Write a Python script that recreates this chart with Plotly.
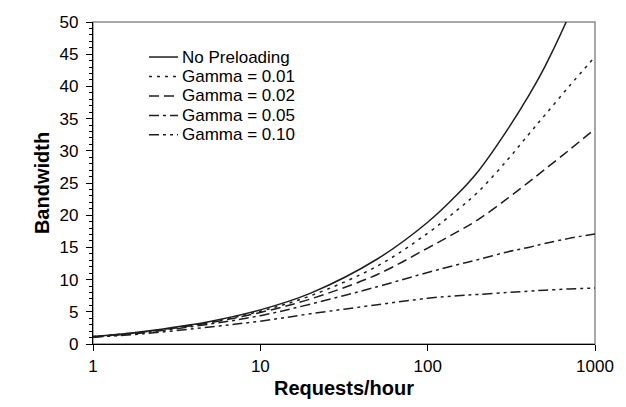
import plotly.graph_objects as go

# Requests/hour (x) and bandwidth per series (y)
requests = [1, 2, 5, 10, 20, 50, 100, 150, 200, 300, 400, 500, 700, 1000]
no_preloading = [1.15, 1.95, 3.5, 5.3, 7.9, 13.2, 18.9, 23.2, 26.8, 33.3, 38.5, 43.0, 51.0, 60.5]
gamma_001 = [1.15, 1.9, 3.4, 5.1, 7.5, 12.1, 17.2, 20.8, 23.6, 28.6, 32.5, 35.5, 40.0, 44.6]
gamma_002 = [1.1, 1.85, 3.3, 4.9, 7.0, 10.8, 14.9, 17.4, 19.3, 22.6, 25.1, 27.1, 30.1, 33.4]
gamma_005 = [1.1, 1.75, 3.1, 4.4, 6.2, 8.9, 11.1, 12.3, 13.1, 14.3, 15.0, 15.6, 16.4, 17.1]
gamma_010 = [1.05, 1.6, 2.65, 3.55, 4.7, 6.1, 7.1, 7.5, 7.7, 8.0, 8.2, 8.35, 8.55, 8.7]

series_names = ["No Preloading", "Gamma = 0.01", "Gamma = 0.02", "Gamma = 0.05", "Gamma = 0.10"]
series_values = [no_preloading, gamma_001, gamma_002, gamma_005, gamma_010]
dashes = ["solid", "3px,5px", "10px,5px", "10px,4px,3px,4px", "10px,4px,3px,4px,3px,4px"]

x_ticks = [1, 10, 100, 1000]
x_tick_labels = ["1", "10", "100", "1000"]

LINE_COLOR = "#1e1e1e"
FONT = "Arial, Liberation Sans, sans-serif"

fig = go.Figure()
for name, vals, dash in zip(series_names, series_values, dashes):
    fig.add_trace(go.Scatter(
        x=requests, y=vals, mode="lines", name=name,
        line=dict(color=LINE_COLOR, width=1.5, dash=dash, shape="spline", smoothing=1.0),
        showlegend=False,
    ))

# Manual legend (tight Excel-style row spacing)
W, H = 502.0, 331.0
row_y_px = [41, 61, 81, 101, 121]
for name, dash, ry in zip(series_names, dashes, row_y_px):
    yp = (336 - ry) / H
    fig.add_shape(type="line", xref="paper", yref="paper",
                  x0=(141 - 85) / W, x1=(170 - 85) / W, y0=yp, y1=yp,
                  line=dict(color=LINE_COLOR, width=1.5, dash=dash))
    fig.add_annotation(xref="paper", yref="paper", x=(172 - 85) / W, y=yp,
                       text=name, showarrow=False, xanchor="left", yanchor="middle",
                       font=dict(family=FONT, size=17, color="black"))

# grey frame on top/right
fig.add_shape(type="rect", xref="paper", yref="paper", x0=0, x1=1, y0=0, y1=1,
              line=dict(color="#8c8c8c", width=1.5), layer="below")

fig.update_layout(
    width=626, height=407,
    margin=dict(l=85, r=39, t=5, b=71),
    paper_bgcolor="white", plot_bgcolor="white",
    font=dict(family=FONT, size=17, color="black"),
    showlegend=False,
)
fig.update_xaxes(
    type="log", range=[0, 3],
    tickvals=x_ticks, ticktext=x_tick_labels,
    showgrid=False, zeroline=False,
    showline=True, linecolor="black", linewidth=1.2,
    ticks="outside", ticklen=6, tickcolor="black", tickwidth=1,
    tickfont=dict(size=17), ticklabeloverflow="allow",
    title=dict(text="<b>Requests/hour</b>", font=dict(size=20), standoff=6),
)
fig.update_yaxes(
    range=[0, 50], dtick=5, tick0=0,
    showgrid=False, zeroline=False,
    showline=True, linecolor="black", linewidth=1.2,
    ticks="outside", ticklen=6, tickcolor="black", tickwidth=1,
    minor=dict(dtick=1, ticks="outside", ticklen=3, tickcolor="black", showgrid=False),
    tickfont=dict(size=17), ticklabeloverflow="allow",
    ticklabelstandoff=4,
    title=dict(text="<b>Bandwidth</b>", font=dict(size=20), standoff=4),
)

fig.write_html("out.html")
